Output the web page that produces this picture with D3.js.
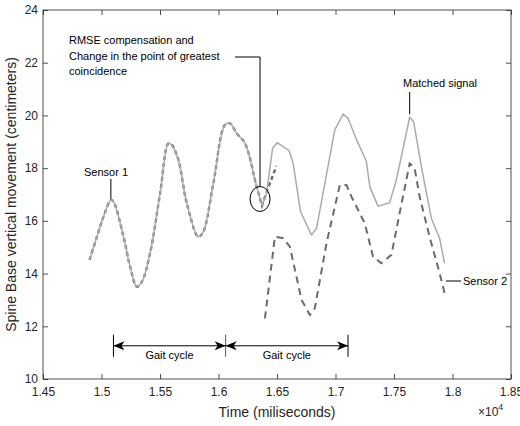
<!DOCTYPE html>
<html>
<head>
<meta charset="utf-8">
<script src="https://cdn.jsdelivr.net/npm/d3@7"></script>
<style>
  body { margin: 0; background: #fff; }
  svg { display: block; font-family: "Liberation Sans", Arial, sans-serif; }
</style>
</head>
<body>
<svg width="520" height="426"></svg>
<script>
// solid light-gray trace (sensor 1, then matched signal)
const matchedTime = [14898, 14961, 15017, 15080, 15102, 15188, 15245, 15302, 15345, 15415,
  15501, 15572, 15601, 15657, 15729, 15828, 15870, 15956, 16055, 16098,
  16155, 16226, 16326, 16372, 16411, 16462, 16502, 16604, 16638, 16701,
  16795, 16838, 16994, 17065, 17107, 17179, 17264, 17293, 17363, 17463,
  17520, 17634, 17668, 17734, 17819, 17890, 17932];
const matchedValue = [14.52, 15.40, 16.16, 16.79, 16.73, 15.40, 14.26, 13.50, 13.69, 14.77,
  17.05, 18.94, 18.88, 18.31, 16.67, 15.40, 15.59, 17.43, 19.64, 19.70,
  19.32, 18.94, 17.30, 16.58, 17.05, 18.75, 18.97, 18.66, 18.18, 16.35,
  15.46, 15.72, 19.45, 20.05, 19.89, 19.09, 18.25, 17.30, 16.56, 16.69,
  17.55, 19.93, 19.76, 18.06, 16.10, 15.34, 14.39];
const smoothUntil = 23; // index of the trough where the smooth sensor 1 part ends

// dashed trace overlapping sensor 1 (after compensation)
const overlapTime = [14898, 14961, 15017, 15080, 15102, 15188, 15245, 15302, 15345, 15415,
  15501, 15572, 15601, 15657, 15729, 15828, 15870, 15956, 16055, 16098,
  16155, 16226, 16326, 16372, 16420, 16495];
const overlapValue = [14.52, 15.40, 16.16, 16.79, 16.73, 15.40, 14.26, 13.50, 13.69, 14.77,
  17.05, 18.94, 18.88, 18.31, 16.67, 15.40, 15.59, 17.43, 19.64, 19.70,
  19.32, 18.94, 17.30, 16.58, 17.20, 18.08];

// dashed sensor 2
const sensor2Time = [16397, 16482, 16553, 16610, 16710, 16781, 16823, 16923, 17037, 17094,
  17136, 17250, 17321, 17392, 17478, 17548, 17634, 17676, 17719, 17804,
  17890, 17926, 17932];
const sensor2Value = [12.30, 15.40, 15.34, 15.02, 13.00, 12.43, 12.68, 15.15, 17.36, 17.36,
  16.92, 15.91, 14.64, 14.39, 14.71, 16.29, 18.18, 18.00, 16.92, 15.40,
  14.01, 13.38, 13.23];

const xTicks = [14500, 15000, 15500, 16000, 16500, 17000, 17500, 18000, 18500];
const xTickLabels = ['1.45', '1.5', '1.55', '1.6', '1.65', '1.7', '1.75', '1.8', '1.85'];
const yTicks = [10, 12, 14, 16, 18, 20, 22, 24];

const gaitBounds = [15102, 16061, 17107];
const gaitLevel = 11.26;

const svg = d3.select('svg');
const margin = {top: 10, right: 9, bottom: 47, left: 43};
const width = +svg.attr('width');
const height = +svg.attr('height');

const x = d3.scaleLinear().domain([14500, 18500]).range([margin.left, width - margin.right]);
const y = d3.scaleLinear().domain([10, 24]).range([height - margin.bottom, margin.top]);

const axisColor = '#262626';

// axes with inward ticks on all four sides
const styleAxis = g => {
  g.select('.domain').remove();
  g.selectAll('line').attr('stroke', axisColor).attr('stroke-width', 0.8);
  g.selectAll('text').attr('fill', axisColor).style('font-size', '12px');
};

svg.append('g')
  .attr('transform', `translate(0,${y(10)})`)
  .call(d3.axisBottom(x).tickValues(xTicks).tickSize(-5).tickPadding(8)
    .tickFormat((d, i) => xTickLabels[i]))
  .call(styleAxis);
svg.append('g')
  .attr('transform', `translate(0,${y(24)})`)
  .call(d3.axisTop(x).tickValues(xTicks).tickSize(-5).tickFormat(''))
  .call(styleAxis);
svg.append('g')
  .attr('transform', `translate(${x(14500)},0)`)
  .call(d3.axisLeft(y).tickValues(yTicks).tickSize(-5).tickPadding(5))
  .call(styleAxis);
svg.append('g')
  .attr('transform', `translate(${x(18500)},0)`)
  .call(d3.axisRight(y).tickValues(yTicks).tickSize(-5).tickFormat(''))
  .call(styleAxis);

svg.append('rect')
  .attr('x', x(14500)).attr('y', y(24))
  .attr('width', x(18500) - x(14500)).attr('height', y(10) - y(24))
  .attr('fill', 'none').attr('stroke', axisColor).attr('stroke-width', 0.8);

// axis labels
svg.append('text')
  .attr('x', (x(14500) + x(18500)) / 2).attr('y', 417)
  .attr('text-anchor', 'middle').attr('fill', axisColor)
  .style('font-size', '14px')
  .text('Time (miliseconds)');

svg.append('text')
  .attr('transform', `translate(16,${(y(10) + y(24)) / 2}) rotate(-90)`)
  .attr('text-anchor', 'middle').attr('fill', axisColor)
  .style('font-size', '14px')
  .text('Spine Base vertical movement (centimeters)');

const expo = svg.append('text')
  .attr('x', 478).attr('y', 416).attr('fill', axisColor)
  .style('font-size', '12px');
expo.append('tspan').text('\u00d710');
expo.append('tspan').attr('dy', -6).style('font-size', '9px').text('4');

// lines
const line = d3.line().x(d => x(d[0])).y(d => y(d[1]));
const smoothLine = d3.line().x(d => x(d[0])).y(d => y(d[1])).curve(d3.curveCatmullRom.alpha(0.5));
const zip = (t, v) => t.map((d, i) => [d, v[i]]);

const overlap = zip(overlapTime, overlapValue);
svg.append('path')
  .attr('d', smoothLine(overlap.slice(0, smoothUntil + 1)) +
    line(overlap.slice(smoothUntil)).replace(/^M/, 'L'))
  .attr('fill', 'none').attr('stroke', '#6b6b6b').attr('stroke-width', 2.4)
  .attr('stroke-dasharray', '4,3');

const matched = zip(matchedTime, matchedValue);
svg.append('path')
  .attr('d', smoothLine(matched.slice(0, smoothUntil + 1)) +
    line(matched.slice(smoothUntil)).replace(/^M/, 'L'))
  .attr('fill', 'none').attr('stroke', '#ababab').attr('stroke-width', 1.5)
  .attr('stroke-linejoin', 'round');

svg.append('path')
  .attr('d', line(zip(sensor2Time, sensor2Value)))
  .attr('fill', 'none').attr('stroke', '#6b6b6b').attr('stroke-width', 2)
  .attr('stroke-dasharray', '7,5');

// annotations
const ann = svg.append('g').attr('fill', '#000').style('font-size', '11px');

ann.append('text').attr('x', 84).attr('y', 176).text('Sensor 1');
ann.append('line')
  .attr('x1', x(15080)).attr('x2', x(15080)).attr('y1', 179).attr('y2', y(16.79) - 1)
  .attr('stroke', '#000');

ann.append('text').attr('x', 403).attr('y', 87).text('Matched signal');
ann.append('line')
  .attr('x1', x(17634)).attr('x2', x(17634)).attr('y1', 92).attr('y2', y(19.93) - 3)
  .attr('stroke', '#000');

ann.append('text').attr('x', 463).attr('y', 285).text('Sensor 2');
ann.append('line')
  .attr('x1', x(17935) + 1).attr('x2', 461).attr('y1', 281).attr('y2', 281)
  .attr('stroke', '#000');

const rmse = ann.append('text').attr('x', 69).attr('y', 44);
['RMSE compensation and', 'Change in the point of greatest', 'coincidence']
  .forEach((t, i) => rmse.append('tspan').attr('x', 69).attr('dy', i ? 15.5 : 0).text(t));

const circX = 16355, circY = 16.83;
ann.append('ellipse')
  .attr('cx', x(circX)).attr('cy', y(circY)).attr('rx', 10).attr('ry', 12.5)
  .attr('fill', 'none').attr('stroke', '#000');
ann.append('path')
  .attr('d', `M235,57H${x(circX)}V${y(circY) - 12.5}`)
  .attr('fill', 'none').attr('stroke', '#000');

// gait cycle arrows
const gy = y(gaitLevel);
const head = (tipX, dir) => {
  const L = 11, W = 4.5, N = 3;
  return `M${tipX},${gy}L${tipX + dir * L},${gy - W}L${tipX + dir * (L - N)},${gy}L${tipX + dir * L},${gy + W}Z`;
};
gaitBounds.forEach((b, i) => {
  ann.append('line')
    .attr('x1', x(b)).attr('x2', x(b)).attr('y1', gy - 11).attr('y2', gy + 11)
    .attr('stroke', i === 1 ? '#555' : '#000');
});
for (let i = 0; i < gaitBounds.length - 1; i++) {
  const a = x(gaitBounds[i]), b = x(gaitBounds[i + 1]);
  ann.append('line').attr('x1', a).attr('x2', b).attr('y1', gy).attr('y2', gy).attr('stroke', '#000');
  ann.append('path').attr('d', head(a, 1));
  ann.append('path').attr('d', head(b, -1));
  ann.append('text')
    .attr('x', (a + b) / 2).attr('y', gy + 13)
    .attr('text-anchor', 'middle').text('Gait cycle');
}
</script>
</body>
</html>
